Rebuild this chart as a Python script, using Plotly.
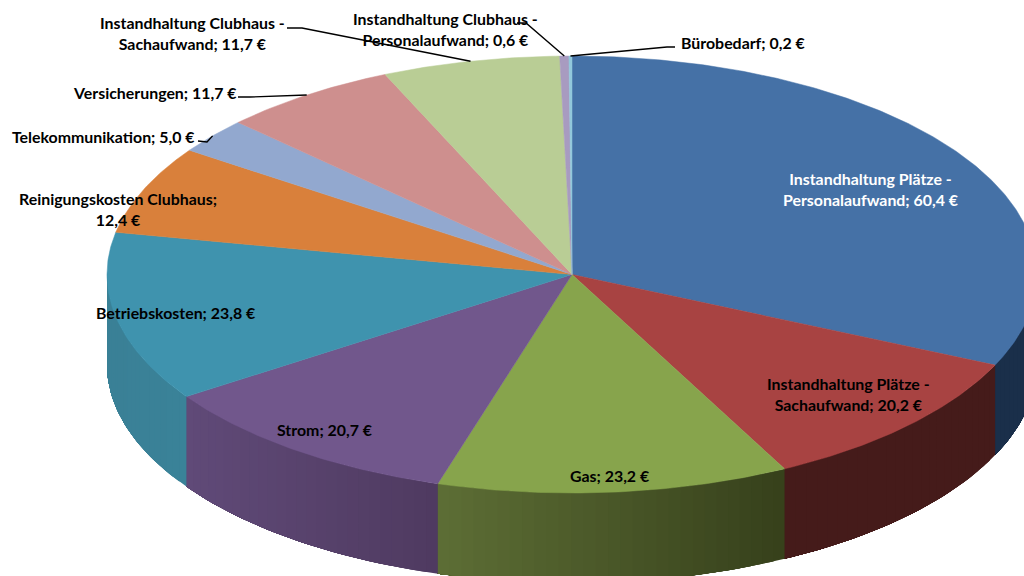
import numpy as np
import plotly.graph_objects as go

categories = ["Instandhaltung Plätze - Personalaufwand", "Instandhaltung Plätze - Sachaufwand", "Gas", "Strom",
              "Betriebskosten", "Reinigungskosten Clubhaus", "Telekommunikation", "Versicherungen",
              "Instandhaltung Clubhaus - Sachaufwand", "Instandhaltung Clubhaus - Personalaufwand", "Bürobedarf"]
values = [60.4, 20.2, 23.2, 20.7, 23.8, 12.4, 5.0, 11.7, 11.7, 0.6, 0.2]

top_colors = ["#4571A6", "#A84342", "#87A44C", "#71578C", "#3F93AE", "#D9803B",
              "#92A8CF", "#CE8F8E", "#B9CD95", "#A89BC0", "#92C8DB"]
side_left = ["#1A2F4A", "#451B1A", "#5D6E35", "#604A78", "#3A8096", None, None, None, None, None, None]
side_right = ["#1A2F4A", "#451B1A", "#36401B", "#4F3A60", "#3A8298", None, None, None, None, None, None]

CX, CY, RX, RY, DEPTH = 572.0, 274.5, 465.0, 218.5, 90.0
FONT = dict(family="Lato, Carlito, sans-serif", size=15.9, color="#000000")

# label layout: centre position, line break and text colour
label_pos = [(870, 188.5), (848, 394), (609.5, 475), (324.5, 429), (175.5, 312), (117.5, 209),
             (103, 136), (154.5, 92), (192, 32.5), (445.5, 28.5), (742.5, 42)]
label_break = ["- ", "- ", None, None, None, "; ", None, None, "- ", "- ", None]
label_color = ["#FFFFFF"] + ["#000000"] * 10
# leader lines: start and elbow in page coordinates; the end is computed from the slice
leaders = {6: [(198, 141), (207, 142)], 7: [(238, 97), (250, 97)], 8: [(287, 28), (302, 28)],
           9: [(517, 23), (526, 23)], 10: [(675, 47), (667, 47)]}

shares = np.array(values) / sum(values) * 2 * np.pi
ends = np.cumsum(shares)
starts = ends - shares


def ex(t):
    return CX + RX * np.sin(t)


def ey(t, dy=0.0):
    return CY - RY * np.cos(t) + dy


def mix(c1, c2, f):
    a = [int(c1[i:i + 2], 16) for i in (1, 3, 5)]
    b = [int(c2[i:i + 2], 16) for i in (1, 3, 5)]
    return "#%02X%02X%02X" % tuple(round(p + (q - p) * f) for p, q in zip(a, b))


fig = go.Figure()


def poly(xs, ys, color, name, width):
    fig.add_trace(go.Scatter(x=list(xs), y=list(ys), mode="lines", fill="toself", fillcolor=color,
                             line=dict(color=color, width=width), name=name,
                             hoverinfo="skip", showlegend=False))


# rim, front half of the ellipse only; each strip runs to the slice's far end so
# that later strips paint over it and no seam shows
for i, cat in enumerate(categories):
    a, b = max(starts[i], np.pi / 2), min(ends[i], 3 * np.pi / 2)
    if a >= b or side_left[i] is None:
        continue
    n = max(1, int(np.degrees(b - a) / 1.5))
    edges = np.linspace(a, b, n + 1)
    xa, xb = sorted((ex(a), ex(b)))
    for t0, t1 in zip(edges[:-1], edges[1:]):
        t = np.linspace(t0, b, max(3, int(np.degrees(b - t0))))
        f = (ex((t0 + t1) / 2) - xa) / (xb - xa)
        poly(np.r_[ex(t), ex(t[::-1])], np.r_[ey(t), ey(t[::-1], DEPTH)],
             mix(side_left[i], side_right[i], f), cat, 0)

# top face
for i, cat in enumerate(categories):
    t = np.linspace(starts[i], ends[i], max(3, int(np.degrees(shares[i]) * 2)))
    poly(np.r_[CX, ex(t), CX], np.r_[CY, ey(t), CY], top_colors[i], cat, 0.5)

# leader lines, ending on the middle of their slice
for i, pts in leaders.items():
    mid = (starts[i] + ends[i]) / 2
    fig.add_trace(go.Scatter(x=[p[0] for p in pts] + [ex(mid)], y=[p[1] for p in pts] + [ey(mid)],
                             mode="lines", line=dict(color="#000000", width=1.4),
                             hoverinfo="skip", showlegend=False))

for i, cat in enumerate(categories):
    text = f"{cat}; {values[i]:.1f} €".replace(".", ",")
    if label_break[i]:
        head, tail = text.split(label_break[i], 1)
        text = head + label_break[i].rstrip() + "<br>" + tail
    text = "<b>" + text.replace("<br>", "</b><br><b>") + "</b>"
    fig.add_annotation(x=label_pos[i][0], y=label_pos[i][1], xref="x", yref="y", text=text, showarrow=False,
                       xanchor="center", yanchor="middle", align="center",
                       font=dict(FONT, color=label_color[i]))

fig.update_layout(width=1024, height=576, margin=dict(l=0, r=0, t=0, b=0), paper_bgcolor="#FFFFFF",
                  plot_bgcolor="#FFFFFF", showlegend=False,
                  xaxis=dict(range=[0, 1024], visible=False, fixedrange=True),
                  yaxis=dict(range=[576, 0], visible=False, fixedrange=True))
fig.write_html("out.html", config={"displayModeBar": False},
               post_script="document.body.style.margin='0';")
